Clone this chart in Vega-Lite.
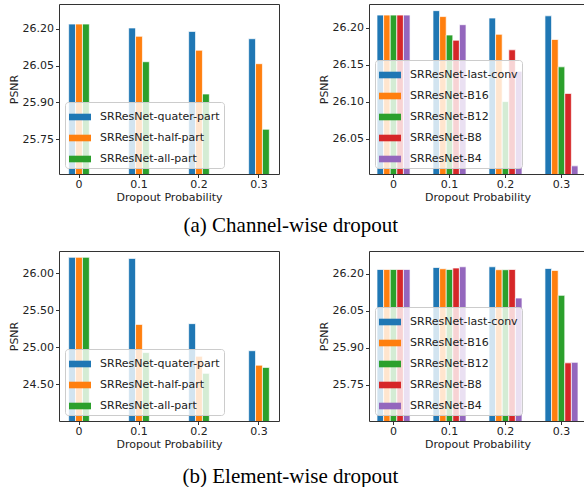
{
  "$schema": "https://vega.github.io/schema/vega-lite/v6.json",
  "padding": {"left": 7, "top": 3, "right": 0, "bottom": 0},
  "data": {"values": [
    {"panel": "a1", "p": "0", "m": "SRResNet-quater-part", "v": 26.22},
    {"panel": "a1", "p": "0", "m": "SRResNet-half-part", "v": 26.22},
    {"panel": "a1", "p": "0", "m": "SRResNet-all-part", "v": 26.22},
    {"panel": "a1", "p": "0.1", "m": "SRResNet-quater-part", "v": 26.204},
    {"panel": "a1", "p": "0.1", "m": "SRResNet-half-part", "v": 26.17},
    {"panel": "a1", "p": "0.1", "m": "SRResNet-all-part", "v": 26.066},
    {"panel": "a1", "p": "0.2", "m": "SRResNet-quater-part", "v": 26.19},
    {"panel": "a1", "p": "0.2", "m": "SRResNet-half-part", "v": 26.113},
    {"panel": "a1", "p": "0.2", "m": "SRResNet-all-part", "v": 25.934},
    {"panel": "a1", "p": "0.3", "m": "SRResNet-quater-part", "v": 26.16},
    {"panel": "a1", "p": "0.3", "m": "SRResNet-half-part", "v": 26.058},
    {"panel": "a1", "p": "0.3", "m": "SRResNet-all-part", "v": 25.79},

    {"panel": "a2", "p": "0", "m": "SRResNet-last-conv", "v": 26.217},
    {"panel": "a2", "p": "0", "m": "SRResNet-B16", "v": 26.217},
    {"panel": "a2", "p": "0", "m": "SRResNet-B12", "v": 26.217},
    {"panel": "a2", "p": "0", "m": "SRResNet-B8", "v": 26.217},
    {"panel": "a2", "p": "0", "m": "SRResNet-B4", "v": 26.217},
    {"panel": "a2", "p": "0.1", "m": "SRResNet-last-conv", "v": 26.223},
    {"panel": "a2", "p": "0.1", "m": "SRResNet-B16", "v": 26.215},
    {"panel": "a2", "p": "0.1", "m": "SRResNet-B12", "v": 26.19},
    {"panel": "a2", "p": "0.1", "m": "SRResNet-B8", "v": 26.183},
    {"panel": "a2", "p": "0.1", "m": "SRResNet-B4", "v": 26.204},
    {"panel": "a2", "p": "0.2", "m": "SRResNet-last-conv", "v": 26.213},
    {"panel": "a2", "p": "0.2", "m": "SRResNet-B16", "v": 26.191},
    {"panel": "a2", "p": "0.2", "m": "SRResNet-B12", "v": 26.10},
    {"panel": "a2", "p": "0.2", "m": "SRResNet-B8", "v": 26.170},
    {"panel": "a2", "p": "0.2", "m": "SRResNet-B4", "v": 26.141},
    {"panel": "a2", "p": "0.3", "m": "SRResNet-last-conv", "v": 26.216},
    {"panel": "a2", "p": "0.3", "m": "SRResNet-B16", "v": 26.184},
    {"panel": "a2", "p": "0.3", "m": "SRResNet-B12", "v": 26.147},
    {"panel": "a2", "p": "0.3", "m": "SRResNet-B8", "v": 26.111},
    {"panel": "a2", "p": "0.3", "m": "SRResNet-B4", "v": 26.013},

    {"panel": "b1", "p": "0", "m": "SRResNet-quater-part", "v": 26.215},
    {"panel": "b1", "p": "0", "m": "SRResNet-half-part", "v": 26.215},
    {"panel": "b1", "p": "0", "m": "SRResNet-all-part", "v": 26.215},
    {"panel": "b1", "p": "0.1", "m": "SRResNet-quater-part", "v": 26.20},
    {"panel": "b1", "p": "0.1", "m": "SRResNet-half-part", "v": 25.31},
    {"panel": "b1", "p": "0.1", "m": "SRResNet-all-part", "v": 24.93},
    {"panel": "b1", "p": "0.2", "m": "SRResNet-quater-part", "v": 25.32},
    {"panel": "b1", "p": "0.2", "m": "SRResNet-half-part", "v": 24.88},
    {"panel": "b1", "p": "0.2", "m": "SRResNet-all-part", "v": 24.65},
    {"panel": "b1", "p": "0.3", "m": "SRResNet-quater-part", "v": 24.955},
    {"panel": "b1", "p": "0.3", "m": "SRResNet-half-part", "v": 24.76},
    {"panel": "b1", "p": "0.3", "m": "SRResNet-all-part", "v": 24.73},

    {"panel": "b2", "p": "0", "m": "SRResNet-last-conv", "v": 26.217},
    {"panel": "b2", "p": "0", "m": "SRResNet-B16", "v": 26.217},
    {"panel": "b2", "p": "0", "m": "SRResNet-B12", "v": 26.217},
    {"panel": "b2", "p": "0", "m": "SRResNet-B8", "v": 26.217},
    {"panel": "b2", "p": "0", "m": "SRResNet-B4", "v": 26.217},
    {"panel": "b2", "p": "0.1", "m": "SRResNet-last-conv", "v": 26.225},
    {"panel": "b2", "p": "0.1", "m": "SRResNet-B16", "v": 26.22},
    {"panel": "b2", "p": "0.1", "m": "SRResNet-B12", "v": 26.217},
    {"panel": "b2", "p": "0.1", "m": "SRResNet-B8", "v": 26.223},
    {"panel": "b2", "p": "0.1", "m": "SRResNet-B4", "v": 26.228},
    {"panel": "b2", "p": "0.2", "m": "SRResNet-last-conv", "v": 26.228},
    {"panel": "b2", "p": "0.2", "m": "SRResNet-B16", "v": 26.216},
    {"panel": "b2", "p": "0.2", "m": "SRResNet-B12", "v": 26.216},
    {"panel": "b2", "p": "0.2", "m": "SRResNet-B8", "v": 26.217},
    {"panel": "b2", "p": "0.2", "m": "SRResNet-B4", "v": 26.101},
    {"panel": "b2", "p": "0.3", "m": "SRResNet-last-conv", "v": 26.221},
    {"panel": "b2", "p": "0.3", "m": "SRResNet-B16", "v": 26.213},
    {"panel": "b2", "p": "0.3", "m": "SRResNet-B12", "v": 26.112},
    {"panel": "b2", "p": "0.3", "m": "SRResNet-B8", "v": 25.838},
    {"panel": "b2", "p": "0.3", "m": "SRResNet-B4", "v": 25.84}
  ]},
  "spacing": 14,
  "vconcat": [
    {
      "title": {"text": "(a) Channel-wise dropout", "orient": "bottom", "offset": 12, "anchor": "start", "dx": 176},
      "spacing": 37,
      "hconcat": [
        {
          "width": 220, "height": 170,
          "transform": [{"filter": "datum.panel === 'a1'"}],
          "mark": {"type": "bar", "stroke": "white", "strokeWidth": 0.7, "clip": true},
          "encoding": {
            "x": {"field": "p", "type": "nominal", "sort": null, "scale": {"paddingInner": 0.655, "paddingOuter": 0.161}, "axis": {"title": "Dropout Probability", "labelAngle": 0}},
            "xOffset": {"field": "m", "type": "nominal", "sort": ["SRResNet-quater-part", "SRResNet-half-part", "SRResNet-all-part"], "scale": {"paddingInner": 0, "paddingOuter": 0}},
            "y": {"field": "v", "type": "quantitative", "scale": {"domain": [25.607, 26.302], "zero": false, "nice": false}, "axis": {"title": "PSNR", "values": [25.75, 25.9, 26.05, 26.2], "format": ".2f"}},
            "color": {"field": "m", "type": "nominal", "sort": ["SRResNet-quater-part", "SRResNet-half-part", "SRResNet-all-part"], "scale": {"domain": ["SRResNet-quater-part", "SRResNet-half-part", "SRResNet-all-part"], "range": ["#1f77b4", "#ff7f0e", "#2ca02c"]}, "legend": {"title": null, "orient": "bottom-left"}}
          }
        },
        {
          "width": 217, "height": 170,
          "transform": [{"filter": "datum.panel === 'a2'"}],
          "mark": {"type": "bar", "stroke": "white", "strokeWidth": 0.7, "clip": true},
          "encoding": {
            "x": {"field": "p", "type": "nominal", "sort": null, "scale": {"paddingInner": 0.41, "paddingOuter": 0.143}, "axis": {"title": "Dropout Probability", "labelAngle": 0}},
            "xOffset": {"field": "m", "type": "nominal", "sort": ["SRResNet-last-conv", "SRResNet-B16", "SRResNet-B12", "SRResNet-B8", "SRResNet-B4"], "scale": {"paddingInner": 0, "paddingOuter": 0}},
            "y": {"field": "v", "type": "quantitative", "scale": {"domain": [26.002, 26.232], "zero": false, "nice": false}, "axis": {"title": "PSNR", "values": [26.05, 26.1, 26.15, 26.2], "format": ".2f"}},
            "color": {"field": "m", "type": "nominal", "sort": ["SRResNet-last-conv", "SRResNet-B16", "SRResNet-B12", "SRResNet-B8", "SRResNet-B4"], "scale": {"domain": ["SRResNet-last-conv", "SRResNet-B16", "SRResNet-B12", "SRResNet-B8", "SRResNet-B4"], "range": ["#1f77b4", "#ff7f0e", "#2ca02c", "#d62728", "#9467bd"]}, "legend": {"title": null, "orient": "bottom-left"}}
          }
        }
      ],
      "resolve": {"scale": {"color": "independent", "x": "independent", "y": "independent", "xOffset": "independent"}}
    },
    {
      "title": {"text": "(b) Element-wise dropout", "orient": "bottom", "offset": 16, "anchor": "start", "dx": 175},
      "spacing": 37,
      "hconcat": [
        {
          "width": 220, "height": 170,
          "transform": [{"filter": "datum.panel === 'b1'"}],
          "mark": {"type": "bar", "stroke": "white", "strokeWidth": 0.7, "clip": true},
          "encoding": {
            "x": {"field": "p", "type": "nominal", "sort": null, "scale": {"paddingInner": 0.655, "paddingOuter": 0.161}, "axis": {"title": "Dropout Probability", "labelAngle": 0}},
            "xOffset": {"field": "m", "type": "nominal", "sort": ["SRResNet-quater-part", "SRResNet-half-part", "SRResNet-all-part"], "scale": {"paddingInner": 0, "paddingOuter": 0}},
            "y": {"field": "v", "type": "quantitative", "scale": {"domain": [24.007, 26.30], "zero": false, "nice": false}, "axis": {"title": "PSNR", "values": [24.5, 25.0, 25.5, 26.0], "format": ".2f"}},
            "color": {"field": "m", "type": "nominal", "sort": ["SRResNet-quater-part", "SRResNet-half-part", "SRResNet-all-part"], "scale": {"domain": ["SRResNet-quater-part", "SRResNet-half-part", "SRResNet-all-part"], "range": ["#1f77b4", "#ff7f0e", "#2ca02c"]}, "legend": {"title": null, "orient": "bottom-left"}}
          }
        },
        {
          "width": 217, "height": 170,
          "transform": [{"filter": "datum.panel === 'b2'"}],
          "mark": {"type": "bar", "stroke": "white", "strokeWidth": 0.7, "clip": true},
          "encoding": {
            "x": {"field": "p", "type": "nominal", "sort": null, "scale": {"paddingInner": 0.41, "paddingOuter": 0.143}, "axis": {"title": "Dropout Probability", "labelAngle": 0}},
            "xOffset": {"field": "m", "type": "nominal", "sort": ["SRResNet-last-conv", "SRResNet-B16", "SRResNet-B12", "SRResNet-B8", "SRResNet-B4"], "scale": {"paddingInner": 0, "paddingOuter": 0}},
            "y": {"field": "v", "type": "quantitative", "scale": {"domain": [25.602, 26.292], "zero": false, "nice": false}, "axis": {"title": "PSNR", "values": [25.75, 25.9, 26.05, 26.2], "format": ".2f"}},
            "color": {"field": "m", "type": "nominal", "sort": ["SRResNet-last-conv", "SRResNet-B16", "SRResNet-B12", "SRResNet-B8", "SRResNet-B4"], "scale": {"domain": ["SRResNet-last-conv", "SRResNet-B16", "SRResNet-B12", "SRResNet-B8", "SRResNet-B4"], "range": ["#1f77b4", "#ff7f0e", "#2ca02c", "#d62728", "#9467bd"]}, "legend": {"title": null, "orient": "bottom-left"}}
          }
        }
      ],
      "resolve": {"scale": {"color": "independent", "x": "independent", "y": "independent", "xOffset": "independent"}}
    }
  ],
  "resolve": {"scale": {"color": "independent", "x": "independent", "y": "independent", "xOffset": "independent"}},
  "config": {
    "font": "DejaVu Sans",
    "view": {"stroke": "#333", "strokeWidth": 1},
    "axis": {"labelFont": "DejaVu Sans", "labelFontSize": 11, "labelColor": "#222", "titleFont": "DejaVu Sans", "titleFontSize": 11, "titleFontWeight": "normal", "titleColor": "#222", "tickColor": "#333", "tickSize": 3.5, "domain": false, "grid": false, "labelPadding": 2},
    "axisX": {"labelPadding": 1, "titlePadding": 2},
    "axisY": {"titlePadding": 3},
    "legend": {"labelFont": "DejaVu Sans", "labelFontSize": 11, "labelColor": "#222", "symbolType": "M-1,-0.3H1V0.3H-1Z", "symbolSize": 484, "symbolStrokeWidth": 0, "symbolOpacity": 1, "fillColor": "rgba(255,255,255,0.8)", "strokeColor": "#ccc", "cornerRadius": 3, "padding": 4, "rowPadding": 5, "labelOffset": 9, "offset": 6},
    "title": {"font": "Liberation Serif", "fontSize": 21, "fontWeight": "normal", "color": "black"}
  }
}
